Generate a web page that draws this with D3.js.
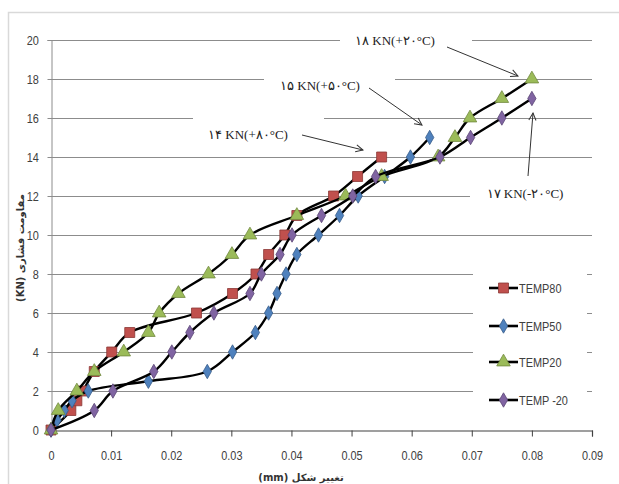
<!DOCTYPE html>
<html>
<head>
<meta charset="utf-8">
<script src="https://cdn.jsdelivr.net/npm/d3@7"></script>
<style>
body{margin:0;background:#fff;}
svg{display:block;}
.tick text{font-family:"Liberation Sans",Arial,sans-serif;font-size:13px;fill:#404040;}
</style>
</head>
<body>
<script>
// chart data
var xTicks = [0,0.01,0.02,0.03,0.04,0.05,0.06,0.07,0.08,0.09];
var yTicks = [0,2,4,6,8,10,12,14,16,18,20];
var seriesNames = ['TEMP80','TEMP50','TEMP20','TEMP -20'];

var temp80X = [0,0.0033,0.0043,0.0053,0.0072,0.0101,0.0131,0.0242,0.0302,0.0341,0.0362,0.0389,0.0409,0.047,0.051,0.055];
var temp80Y = [0,1,1.5,2,3,4,5,6,7,8,9,10,11,12,13,14];

var temp50X = [0,0.001,0.0022,0.0035,0.0062,0.0162,0.026,0.0302,0.034,0.0362,0.0376,0.0391,0.0409,0.0445,0.048,0.0511,0.0555,0.0598,0.063];
var temp50Y = [0,0.5,1,1.5,2,2.5,3,4,5,6,7,8,9,10,11,12,13,14,15];

var temp20X = [0,0.0012,0.0043,0.0072,0.0121,0.0162,0.018,0.0212,0.0262,0.0301,0.0331,0.0409,0.049,0.055,0.0644,0.0672,0.0697,0.075,0.08];
var temp20Y = [0,1,2,3,4,5,6,7,8,9,10,11,12,13,14,15,16,17,18];

var temp_20X = [0,0.0072,0.0103,0.0171,0.0201,0.0231,0.0271,0.0331,0.035,0.0381,0.0401,0.045,0.0502,0.054,0.0647,0.0698,0.075,0.08];
var temp_20Y = [0,1,2,3,4,5,6,7,8,9,10,11,12,13,14,15,16,17];

var noteTexts = ['۱۸ KN(+۲۰°C)','۱۵ KN(+۵۰°C)','۱۴ KN(+۸۰°C)','۱۷ KN(-۲۰°C)'];

var W = 619, H = 484;
var margin = {top: 40, right: 27, bottom: 54, left: 51};
var narrow = 'scale(0.84,1)';

var svg = d3.select('body').append('svg')
  .attr('width', W).attr('height', H);

svg.append('rect')
  .attr('x', 8.5).attr('y', 12.5)
  .attr('width', 620).attr('height', 480)
  .attr('fill', '#fff').attr('stroke', '#d9d9d9').attr('stroke-width', 1.5);

var x = d3.scaleLinear().domain([0, 0.09]).range([margin.left, W - margin.right]);
var y = d3.scaleLinear().domain([0, 20]).range([H - margin.bottom, margin.top]);

// gridlines
svg.append('g').selectAll('line')
  .data(yTicks.filter(function(d){ return d > 0; }))
  .enter().append('line')
  .attr('x1', x(0)).attr('x2', x(0.09))
  .attr('y1', function(d){ return Math.round(y(d)) + 0.5; })
  .attr('y2', function(d){ return Math.round(y(d)) + 0.5; })
  .attr('stroke', '#8c8c8c').attr('stroke-width', 1);

// white boxes behind notes and legend (they cut the gridlines)
var boxes = [
  [340, 28, 132, 26],
  [264, 68, 131, 30],
  [193, 110, 131, 36],
  [470, 178, 130, 30],
  [473, 266, 114, 155]
];
svg.append('g').selectAll('rect')
  .data(boxes).enter().append('rect')
  .attr('x', function(d){ return d[0]; })
  .attr('y', function(d){ return d[1]; })
  .attr('width', function(d){ return d[2]; })
  .attr('height', function(d){ return d[3]; })
  .attr('fill', '#fff');

// axes
var bottomAxis = d3.axisBottom(x).tickValues(xTicks).tickSize(6).tickPadding(14)
  .tickFormat(function(d){ return d === 0 ? '0' : d3.format('.2f')(d); });
var gx = svg.append('g')
  .attr('transform', 'translate(0,' + (Math.round(y(0)) + 0.5) + ')')
  .call(bottomAxis);
gx.select('.domain').attr('stroke', '#404040').attr('stroke-width', 1.2);
gx.selectAll('.tick line').attr('stroke', '#404040');
gx.selectAll('.tick text').attr('transform', narrow);

var leftAxis = d3.axisLeft(y).tickValues(yTicks).tickSize(4).tickPadding(11);
var gy = svg.append('g')
  .attr('transform', 'translate(' + (Math.round(x(0)) + 0.5) + ',0)')
  .call(leftAxis);
gy.select('.domain').attr('stroke', '#8c8c8c');
gy.selectAll('.tick line').attr('stroke', '#8c8c8c');
gy.selectAll('.tick text').attr('transform', narrow);

// series
var colors = ['#c0504d', '#4f81bd', '#9bbb59', '#8064a2'];
var strokes = ['#8c3836', '#385d8a', '#71893f', '#5c4776'];
var symbols = [d3.symbolSquare, d3.symbolDiamond, d3.symbolTriangle, d3.symbolDiamond];
var sizes = [100, 60, 80, 60];

function pairs(xs, ys){
  return xs.map(function(v, i){ return [v, ys[i]]; });
}
var series = [pairs(temp80X, temp80Y), pairs(temp50X, temp50Y), pairs(temp20X, temp20Y), pairs(temp_20X, temp_20Y)];

var line = d3.line()
  .x(function(d){ return x(d[0]); })
  .y(function(d){ return y(d[1]); })
  .curve(d3.curveCatmullRom.alpha(0.5));

series.forEach(function(data, i){
  var g = svg.append('g');
  g.append('path')
    .attr('d', line(data))
    .attr('fill', 'none')
    .attr('stroke', '#000')
    .attr('stroke-width', 2.4);
  g.selectAll('path.pt')
    .data(data).enter().append('path')
    .attr('class', 'pt')
    .attr('transform', function(d){ return 'translate(' + x(d[0]) + ',' + y(d[1]) + ')'; })
    .attr('d', d3.symbol().type(symbols[i]).size(sizes[i]))
    .attr('fill', colors[i])
    .attr('stroke', strokes[i])
    .attr('stroke-width', 0.8);
});

// legend
var legend = svg.append('g').selectAll('g')
  .data(seriesNames).enter().append('g')
  .attr('transform', function(d, i){ return 'translate(489,' + [288, 326, 362, 400][i] + ')'; });
legend.append('line')
  .attr('x1', 0).attr('x2', 29)
  .attr('stroke', '#000').attr('stroke-width', 2.6);
legend.append('path')
  .attr('transform', 'translate(14.5,0)')
  .attr('d', function(d, i){ return d3.symbol().type(symbols[i]).size(sizes[i])(); })
  .attr('fill', function(d, i){ return colors[i]; })
  .attr('stroke', function(d, i){ return strokes[i]; })
  .attr('stroke-width', 0.8);
legend.append('text')
  .attr('transform', 'translate(30,0) ' + narrow)
  .attr('dy', '0.36em')
  .style('font-family', '"Liberation Sans",Arial,sans-serif')
  .style('font-size', '13px')
  .style('fill', '#404040')
  .text(function(d){ return d; });

// notes with arrows
svg.append('defs').append('marker')
  .attr('id', 'arrow')
  .attr('viewBox', '0 0 10 10')
  .attr('refX', 9).attr('refY', 5)
  .attr('markerWidth', 9).attr('markerHeight', 9)
  .attr('orient', 'auto')
  .append('path')
  .attr('d', 'M1,1 L9,5 L1,9')
  .attr('fill', 'none').attr('stroke', '#333').attr('stroke-width', 1.1);

var notePos = [[395, 45], [320, 90], [248, 139], [525, 198]];
var arrows = [
  [447, 47, 518, 76],
  [369, 88, 422, 125],
  [302, 135, 363, 150],
  [528, 176, 533, 113]
];
svg.append('g').selectAll('text')
  .data(noteTexts).enter().append('text')
  .attr('x', function(d, i){ return notePos[i][0]; })
  .attr('y', function(d, i){ return notePos[i][1]; })
  .attr('text-anchor', 'middle')
  .style('font-family', '"Liberation Serif","DejaVu Serif",serif')
  .style('font-size', '13px')
  .style('fill', '#222')
  .text(function(d){ return d; });
svg.append('g').selectAll('line')
  .data(arrows).enter().append('line')
  .attr('x1', function(d){ return d[0]; })
  .attr('y1', function(d){ return d[1]; })
  .attr('x2', function(d){ return d[2]; })
  .attr('y2', function(d){ return d[3]; })
  .attr('stroke', '#333').attr('stroke-width', 1)
  .attr('marker-end', 'url(#arrow)');

// axis titles
svg.append('text')
  .attr('transform', 'translate(24,248) rotate(-90)')
  .attr('text-anchor', 'middle')
  .style('font-family', '"DejaVu Sans",sans-serif')
  .style('font-size', '10px')
  .style('font-weight', 'bold')
  .style('fill', '#333')
  .text('(KN) مقاومت فشاری');

svg.append('text')
  .attr('x', 301).attr('y', 481)
  .attr('text-anchor', 'middle')
  .style('font-family', '"DejaVu Sans",sans-serif')
  .style('font-size', '10px')
  .style('font-weight', 'bold')
  .style('fill', '#333')
  .text('(mm) تغییر شکل');
</script>
</body>
</html>
